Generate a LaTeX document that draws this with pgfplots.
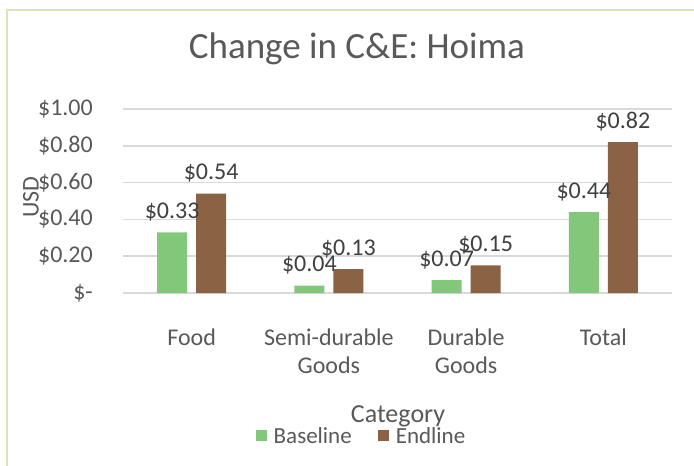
\documentclass[border=0pt]{standalone}
\usepackage{fontspec}
\setmainfont{Carlito}
\usepackage{pgfplots}
\pgfplotsset{compat=1.18}
\definecolor{basegreen}{HTML}{82C77A}
\definecolor{endbrown}{HTML}{8C6244}
\definecolor{gridgray}{HTML}{D9D9D9}
\definecolor{txtgray}{HTML}{595959}
\definecolor{lblgray}{HTML}{404040}
\definecolor{framegreen}{HTML}{D7E4BD}
\begin{document}
\begin{tikzpicture}
\useasboundingbox (0bp,0bp) rectangle (694bp,-466bp);
\fill[white] (0bp,0bp) rectangle (694bp,-466bp);
\draw[framegreen, line width=2.5bp] (7bp,-480bp) -- (7bp,-10bp) -- (710bp,-10bp);
\begin{axis}[
  at={(123bp,-293bp)}, anchor=south west,
  scale only axis, width=549bp, height=184bp,
  ybar=9bp, bar width=30bp,
  xmin=-0.5, xmax=3.5, ymin=0, ymax=1,
  xtick={0,1,2,3},
  xticklabels={Food, Semi-durable\\Goods, Durable\\Goods, Total},
  ytick={0,0.2,0.4,0.6,0.8,1},
  yticklabels={\$-\hspace{10bp}, \$0.20, \$0.40, \$0.60, \$0.80, \$1.00},
  axis line style={draw=none},
  tick style={draw=none},
  ymajorgrids, major grid style={gridgray, line width=1.5bp},
  yticklabel style={font=\fontsize{24bp}{28bp}\selectfont, text=txtgray, anchor=east, inner sep=0pt, xshift=-30bp},
  xticklabel style={font=\fontsize{24bp}{28bp}\selectfont, text=txtgray, align=center, anchor=north, inner sep=0pt, yshift=-31bp},
  title={Change in C\&E: Hoima},
  title style={font=\fontsize{37bp}{40bp}\selectfont, text=txtgray, at={(axis description cs:0.4262,1.2935)}, anchor=center},
  ylabel={USD},
  ylabel style={font=\fontsize{24bp}{28bp}\selectfont, text=txtgray, at={(axis description cs:-0.1676,0.5217)}, anchor=center},
  xlabel={Category},
  xlabel style={font=\fontsize{26bp}{30bp}\selectfont, text=txtgray, at={(axis description cs:0.501,-0.668)}, anchor=center},
  nodes near coords={\$\pgfmathprintnumber[fixed, fixed zerofill, precision=2, assume math mode=true]{\pgfplotspointmeta}},
  nodes near coords style={font=\fontsize{24bp}{28bp}\selectfont, text=lblgray, anchor=base, inner sep=0pt, yshift=14bp},
  legend style={at={(axis description cs:0.4326,-0.777)}, anchor=center, draw=none, fill=none,
    font=\fontsize{23bp}{27bp}\selectfont, text=txtgray, nodes={inner sep=0pt},
    /tikz/every odd column/.append style={column sep=7bp},
    /tikz/every even column/.append style={column sep=26bp}},
  legend columns=2,
  legend image code/.code={\fill[#1] (0bp,-5.5bp) rectangle (11bp,5.5bp);},
  clip=false,
]
\addplot[fill=basegreen, draw=none] coordinates {(0,0.33) (1,0.04) (2,0.07) (3,0.44)};
\addplot[fill=endbrown, draw=none] coordinates {(0,0.54) (1,0.13) (2,0.15) (3,0.82)};
\legend{Baseline, Endline}
\end{axis}
\end{tikzpicture}
\end{document}
